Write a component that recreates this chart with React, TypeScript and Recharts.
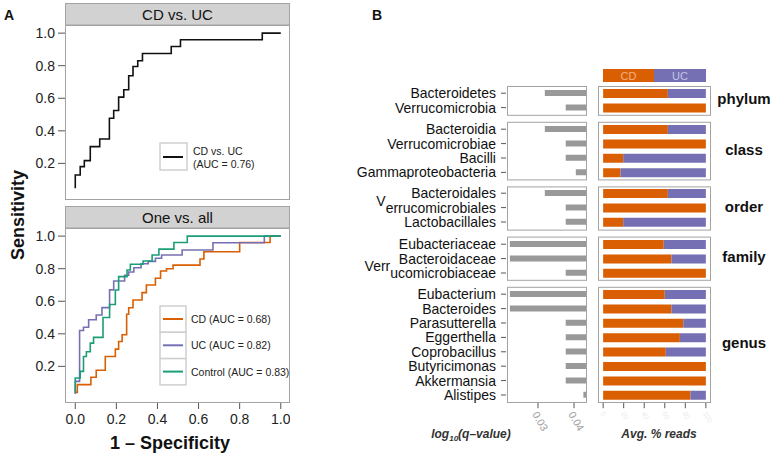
import React from "react";
import { LineChart, Line, XAxis, YAxis, BarChart, Bar } from "recharts";

const FONT = '"Liberation Sans", Arial, Helvetica, sans-serif';
const CD_COLOR = "#D95F02";
const UC_COLOR = "#7570B3";
const CONTROL_COLOR = "#1B9E77";
const FRAME = "#a3a3a3";

// Panel A: ROC steps (x = 1 - specificity, y = sensitivity)
const cdVsUcFpr = [0, 0, 0.024, 0.044, 0.073, 0.119, 0.166, 0.187, 0.211, 0.236, 0.26, 0.281, 0.304, 0.327, 0.467, 0.512, 0.91, 1.0];
const cdVsUcTpr = [0.047, 0.129, 0.18, 0.217, 0.303, 0.35, 0.477, 0.525, 0.607, 0.652, 0.738, 0.795, 0.83, 0.875, 0.918, 0.959, 1.0, 1.0];

const cdFpr = [0, 0.01, 0.076, 0.102, 0.146, 0.195, 0.211, 0.228, 0.25, 0.26, 0.281, 0.325, 0.346, 0.39, 0.415, 0.444, 0.476, 0.607, 0.626, 0.8, 0.948, 1];
const cdTpr = [0.04, 0.088, 0.133, 0.176, 0.261, 0.306, 0.353, 0.394, 0.52, 0.56, 0.608, 0.653, 0.7, 0.741, 0.786, 0.8, 0.822, 0.86, 0.904, 0.961, 1.0, 1.0];

const ucFpr = [0, 0, 0.021, 0.04, 0.065, 0.102, 0.13, 0.167, 0.187, 0.24, 0.26, 0.285, 0.32, 0.355, 0.39, 0.42, 0.52, 0.67, 0.92, 1];
const ucTpr = [0.03, 0.108, 0.42, 0.44, 0.486, 0.516, 0.561, 0.67, 0.724, 0.76, 0.78, 0.806, 0.83, 0.845, 0.864, 0.884, 0.915, 0.959, 1.0, 1.0];

const ctrlFpr = [0, 0, 0.024, 0.04, 0.054, 0.073, 0.089, 0.135, 0.167, 0.195, 0.211, 0.252, 0.268, 0.33, 0.374, 0.407, 0.48, 0.545, 1];
const ctrlTpr = [0.037, 0.129, 0.169, 0.261, 0.29, 0.343, 0.378, 0.5, 0.58, 0.669, 0.751, 0.792, 0.827, 0.847, 0.884, 0.92, 0.961, 1.0, 1.0];

const rocTicks = [0, 0.2, 0.4, 0.6, 0.8, 1];
const sensTicks = [0.2, 0.4, 0.6, 0.8, 1];

// Panel B: taxa, q-values (bars hang from the right edge) and CD share of reads (%)
const phylumNames = ["Bacteroidetes", "Verrucomicrobia"];
const phylumQ = [0.0319, 0.0377];
const phylumCd = [63, 100];

const classNames = ["Bacteroidia", "Verrucomicrobiae", "Bacilli", "Gammaproteobacteria"];
const classQ = [0.0319, 0.0377, 0.0377, 0.0405];
const classCd = [63, 100, 19.5, 17];

const orderNames = ["Bacteroidales", "V|errucomicrobiales", "Lactobacillales"];
const orderQ = [0.0319, 0.0377, 0.0377];
const orderCd = [63, 100, 19.5];

const familyNames = ["Eubacteriaceae", "Bacteroidaceae", "Verr|ucomicrobiaceae"];
const familyQ = [0.0222, 0.0222, 0.0377];
const familyCd = [59, 66.5, 100];

const genusNames = ["Eubacterium", "Bacteroides", "Parasutterella", "Eggerthella", "Coprobacillus", "Butyricimonas", "Akkermansia", "Alistipes"];
const genusQ = [0.0222, 0.0222, 0.0377, 0.0377, 0.0377, 0.0377, 0.0377, 0.0426];
const genusCd = [60, 66.5, 78, 74.7, 61, 100, 100, 85];

const qTicks = [0.03, 0.04];
const readTicks = [0, 20, 40, 60, 80, 100];
const Q_MIN = 0.0214;
const Q_MAX = 0.0436;

const ROW = 14.4;
const GAP = 7;

const toPoints = (xs: number[], ys: number[]) => xs.map((x, i) => ({ x, y: ys[i] }));

const Place = ({ left, top, children }: any) => (
  <div style={{ position: "absolute", left, top }}>{children}</div>
);

function RocChart({ plotTop, series, showX }: any) {
  return (
    <Place left={0} top={plotTop}>
      <LineChart width={290} height={showX ? 207 : 175} margin={{ top: 0, right: 0, bottom: 0, left: 0 }}>
        <XAxis
          type="number"
          dataKey="x"
          domain={[-0.05, 1.045]}
          ticks={rocTicks}
          interval={0}
          allowDataOverflow
          hide={!showX}
          height={32}
          axisLine={false}
          tickSize={6}
          tickMargin={5}
          tickLine={{ stroke: "#555" }}
          tick={{ fontSize: 14, fill: "#222", fontFamily: FONT }}
          tickFormatter={(v: number) => v.toFixed(1)}
        />
        <YAxis
          type="number"
          domain={[-0.025, 1.05]}
          ticks={sensTicks}
          interval={0}
          allowDataOverflow
          width={65}
          axisLine={false}
          tickSize={7}
          tickMargin={3}
          tickLine={{ stroke: "#555" }}
          tick={{ fontSize: 14, fill: "#222", fontFamily: FONT }}
          tickFormatter={(v: number) => v.toFixed(1)}
        />
        {series.map((s: any) => (
          <Line
            key={s.name}
            data={s.points}
            dataKey="y"
            type="stepAfter"
            stroke={s.color}
            strokeWidth={1.6}
            dot={false}
            activeDot={false}
            isAnimationActive={false}
          />
        ))}
      </LineChart>
    </Place>
  );
}

function TaxonTick({ x, y, payload }: any) {
  const parts = String(payload.value).split("|");
  return (
    <g>
      <line x1={x - 6} x2={x - 1} y1={y} y2={y} stroke="#555" />
      <text x={x - 11} y={y + 5} textAnchor="end" fontSize={14} fill="#111" fontFamily={FONT}>
        {parts.length > 1
          ? [
              <tspan key="a" dy={-7}>{parts[0]}</tspan>,
              <tspan key="b" dy={7}>{parts[1]}</tspan>,
            ]
          : parts[0]}
      </text>
    </g>
  );
}

function QTick({ x, y, payload }: any) {
  const tx = x - 6;
  const ty = y + 12;
  return (
    <g>
      <line x1={x} x2={x} y1={y} y2={y + 6} stroke="#555" />
      <text x={tx} y={ty} transform={`rotate(60 ${tx} ${ty})`} fontSize={10.5} fill="#9a9a9a" fontFamily={FONT}>
        {Number(payload.value).toFixed(2)}
      </text>
    </g>
  );
}

function ReadTick({ x, y, payload }: any) {
  const tx = x - 3;
  const ty = y + 11;
  return (
    <g>
      <line x1={x} x2={x} y1={y} y2={y + 6} stroke="#555" />
      <text x={tx} y={ty} transform={`rotate(60 ${tx} ${ty})`} fontSize={7} fill="#ececec" fontFamily={FONT}>
        {payload.value}
      </text>
    </g>
  );
}

function QBars({ top, names, q, showAxis }: any) {
  const rows = names.map((name: string, i: number) => ({ name, q: [q[i], Q_MAX] }));
  const h = names.length * ROW;
  return (
    <Place left={340} top={top}>
      <BarChart
        layout="vertical"
        data={rows}
        width={247}
        height={h + (showAxis ? 40 : 0)}
        margin={{ top: 0, right: 0, bottom: 0, left: 0 }}
        barCategoryGap={0}
      >
        <XAxis
          type="number"
          domain={[Q_MIN, Q_MAX]}
          ticks={qTicks}
          interval={0}
          allowDataOverflow
          hide={!showAxis}
          height={40}
          axisLine={false}
          tickLine={false}
          tickSize={0}
          tickMargin={0}
          tick={<QTick />}
        />
        <YAxis
          type="category"
          dataKey="name"
          width={167}
          interval={0}
          axisLine={false}
          tickLine={false}
          tickSize={0}
          tickMargin={0}
          tick={<TaxonTick />}
        />
        <Bar dataKey="q" fill="#999999" barSize={6} isAnimationActive={false} />
      </BarChart>
    </Place>
  );
}

function ReadBars({ top, names, cd, showAxis }: any) {
  const rows = names.map((name: string, i: number) => ({ name, cd: cd[i], uc: 100 - cd[i] }));
  const h = names.length * ROW;
  return (
    <Place left={598} top={top}>
      <BarChart
        layout="vertical"
        data={rows}
        width={133}
        height={h + (showAxis ? 40 : 0)}
        margin={{ top: 0, right: 20, bottom: 0, left: 0 }}
        barCategoryGap={0}
      >
        <XAxis
          type="number"
          domain={[-5, 105]}
          ticks={readTicks}
          interval={0}
          allowDataOverflow
          hide={!showAxis}
          height={40}
          axisLine={false}
          tickLine={false}
          tickSize={0}
          tickMargin={0}
          tick={<ReadTick />}
        />
        <YAxis type="category" dataKey="name" hide />
        <Bar dataKey="cd" stackId="r" fill={CD_COLOR} barSize={9} isAnimationActive={false} />
        <Bar dataKey="uc" stackId="r" fill={UC_COLOR} barSize={9} isAnimationActive={false} />
      </BarChart>
    </Place>
  );
}

const groups = [
  { rank: "phylum", names: phylumNames, q: phylumQ, cd: phylumCd },
  { rank: "class", names: classNames, q: classQ, cd: classCd },
  { rank: "order", names: orderNames, q: orderQ, cd: orderCd },
  { rank: "family", names: familyNames, q: familyQ, cd: familyCd },
  { rank: "genus", names: genusNames, q: genusQ, cd: genusCd },
];

export default function App() {
  let y = 86;
  const placed = groups.map((g) => {
    const top = y;
    const h = g.names.length * ROW;
    y += h + GAP;
    return { ...g, top, h };
  });

  const oneVsAll = [
    { name: "CD", color: CD_COLOR, points: toPoints(cdFpr, cdTpr), label: "CD (AUC = 0.68)" },
    { name: "UC", color: UC_COLOR, points: toPoints(ucFpr, ucTpr), label: "UC (AUC = 0.82)" },
    { name: "Control", color: CONTROL_COLOR, points: toPoints(ctrlFpr, ctrlTpr), label: "Control (AUC = 0.83)" },
  ];

  return (
    <div style={{ position: "absolute", left: 0, top: 0, width: 773, height: 458, background: "#fff", fontFamily: FONT, overflow: "hidden" }}>
      <RocChart plotTop={25} showX={false} series={[{ name: "CD vs. UC", color: "#111", points: toPoints(cdVsUcFpr, cdVsUcTpr) }]} />
      <RocChart plotTop={228} showX series={oneVsAll} />

      {placed.map((g, i) => (
        <QBars key={"q" + g.rank} top={g.top} names={g.names} q={g.q} showAxis={i === placed.length - 1} />
      ))}
      {placed.map((g, i) => (
        <ReadBars key={"r" + g.rank} top={g.top} names={g.names} cd={g.cd} showAxis={i === placed.length - 1} />
      ))}

      <svg width={773} height={458} style={{ position: "absolute", left: 0, top: 0, pointerEvents: "none" }} fontFamily={FONT}>
        <text x={4} y={20} fontSize={14} fontWeight="bold" fill="#111">A</text>
        <text x={372} y={20} fontSize={14} fontWeight="bold" fill="#111">B</text>

        {/* panel A strips and frames */}
        <rect x={65.5} y={3.5} width={224} height={21.5} fill="#d2d2d2" stroke={FRAME} />
        <text x={177.5} y={19.5} textAnchor="middle" fontSize={15} fill="#111">CD vs. UC</text>
        <rect x={65.5} y={25.5} width={224} height={174} fill="none" stroke={FRAME} />
        <rect x={65.5} y={206.5} width={224} height={21.5} fill="#d2d2d2" stroke={FRAME} />
        <text x={177.5} y={222.5} textAnchor="middle" fontSize={15} fill="#111">One vs. all</text>
        <rect x={65.5} y={228.5} width={224} height={174} fill="none" stroke={FRAME} />

        {/* legends */}
        <rect x={160} y={143} width={27} height={27} fill="#fff" stroke="#cfcfcf" strokeWidth={1.5} />
        <line x1={163} x2={183} y1={157} y2={157} stroke="#111" strokeWidth={2} />
        <text x={193} y={155} fontSize={10.5} fill="#222">CD vs. UC</text>
        <text x={193} y={168} fontSize={10.5} fill="#222">(AUC = 0.76)</text>
        {oneVsAll.map((s, i) => {
          const by = 306 + i * 26.3;
          return (
            <g key={s.name}>
              <rect x={160} y={by} width={26} height={26.3} fill="#fff" stroke="#cfcfcf" strokeWidth={1.5} />
              <line x1={163} x2={183} y1={by + 13} y2={by + 13} stroke={s.color} strokeWidth={2} />
              <text x={191} y={by + 17} fontSize={10.5} fill="#222">{s.label}</text>
            </g>
          );
        })}

        <text x={24} y={215} transform="rotate(-90 24 215)" textAnchor="middle" fontSize={18} fontWeight="bold" fill="#111">Sensitivity</text>
        <text x={170} y={449} textAnchor="middle" fontSize={18} fontWeight="bold" fill="#111">1 – Specificity</text>

        {/* panel B frames and labels */}
        {placed.map((g) => (
          <g key={"f" + g.rank}>
            <rect x={507.5} y={g.top + 0.5} width={79} height={g.h} fill="none" stroke={FRAME} />
            <rect x={598.5} y={g.top + 0.5} width={112} height={g.h} fill="none" stroke={FRAME} />
            <text x={744} y={g.top + g.h / 2 + 4} textAnchor="middle" fontSize={15} fontWeight="bold" fill="#111">{g.rank}</text>
          </g>
        ))}

        <rect x={603} y={69} width={51} height={13} fill={CD_COLOR} />
        <rect x={654} y={69} width={52} height={13} fill={UC_COLOR} />
        <text x={628.5} y={79.5} textAnchor="middle" fontSize={11} fill="#f5b088">CD</text>
        <text x={680} y={79.5} textAnchor="middle" fontSize={11} fill="#c6c3e8">UC</text>

        <text x={471} y={438} textAnchor="middle" fontSize={12} fontWeight="bold" fontStyle="italic" fill="#333">
          log<tspan fontSize={8} dy={3}>10</tspan><tspan dy={-3}>(q–value)</tspan>
        </text>
        <text x={659} y={438} textAnchor="middle" fontSize={12} fontWeight="bold" fontStyle="italic" fill="#333">Avg. % reads</text>
      </svg>
    </div>
  );
}
